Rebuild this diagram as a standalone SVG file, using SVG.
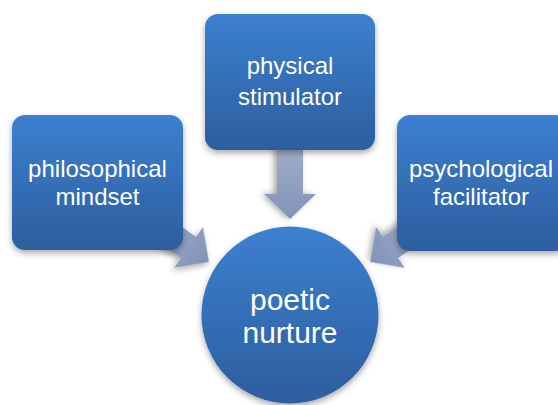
<svg xmlns="http://www.w3.org/2000/svg" width="558" height="405" viewBox="0 0 558 405">
<defs>
<linearGradient id="boxg" x1="0" y1="0" x2="0" y2="1">
<stop offset="0" stop-color="#3c80d0"/>
<stop offset="1" stop-color="#2d5d9e"/>
</linearGradient>
<linearGradient id="arrg" x1="0" y1="0" x2="1" y2="0">
<stop offset="0" stop-color="#a3b0cb"/>
<stop offset="1" stop-color="#8092b7"/>
</linearGradient>
<filter id="sh" x="-20%" y="-20%" width="140%" height="150%">
<feDropShadow dx="0" dy="3" stdDeviation="3" flood-color="#000" flood-opacity="0.35"/>
</filter>
</defs>
<style>
.box{fill:url(#boxg);filter:url(#sh)}
.arr{fill:url(#arrg);filter:url(#sh)}
.t{font-family:"Liberation Sans",Arial,sans-serif;font-size:24px;fill:#ffffff;text-anchor:middle}
.tc{font-size:30px}
</style>
<rect width="558" height="405" fill="#ffffff"/>
<g id="connectors">
<!-- left arrow: along direction (0.816,0.577) -->
<g transform="translate(188.5,247.5) rotate(35.26)">
<polygon class="arr" points="-45,-13 0,-13 0,-25 25,0 0,25 0,13 -45,13"/>
</g>
<!-- right arrow (mirror) -->
<g transform="translate(390.5,247.5) rotate(144.74)">
<polygon class="arr" points="-45,-13 0,-13 0,-25 25,0 0,25 0,13 -45,13"/>
</g>
<!-- down arrow -->
<g transform="translate(290,194) rotate(90)">
<polygon class="arr" points="-50,-13 0,-13 0,-26 25,0 0,26 0,13 -50,13"/>
</g>
</g>
<g id="node-philosophical">
<rect class="box" x="12" y="115" width="171" height="135" rx="13"/>
<text class="t" x="97.5" y="177">philosophical</text>
<text class="t" x="97.5" y="205">mindset</text>
</g>
<g id="node-physical">
<rect class="box" x="205" y="14" width="170" height="136" rx="13"/>
<text class="t" x="290" y="74">physical</text>
<text class="t" x="290" y="105">stimulator</text>
</g>
<g id="node-psychological">
<rect class="box" x="397" y="115" width="171" height="136" rx="13"/>
<text class="t" x="481" y="177">psychological</text>
<text class="t" x="481" y="205">facilitator</text>
</g>
<g id="node-poetic">
<circle class="box" cx="290" cy="315" r="88.5"/>
<text class="t tc" x="290" y="310">poetic</text>
<text class="t tc" x="290" y="343">nurture</text>
</g>
</svg>
